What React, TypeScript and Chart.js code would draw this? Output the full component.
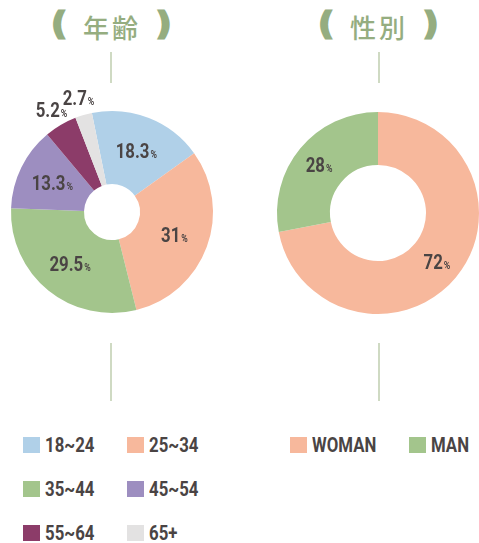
import React, { useEffect, useRef } from "react";
import { Chart, registerables } from "chart.js";

Chart.register(...registerables);

// ---- data ----
const ageTitle = "年齢";
const ageLabels = ["18~24", "25~34", "35~44", "45~54", "55~64", "65+"];
const ageValues = [18.3, 31, 29.5, 13.3, 5.2, 2.7];
const ageColors = ["#b0d0e8", "#f7b89c", "#a3c58c", "#9d8ec0", "#8c3c69", "#e3e2e2"];

const genderTitle = "性別";
const genderLabels = ["WOMAN", "MAN"];
const genderValues = [72, 28];
const genderColors = ["#f7b89c", "#a3c58c"];

// ---- styles ----
const FONT = "Roboto, 'DejaVu Sans', sans-serif";
const SX = 0.8;
const TEXT = "#4a4444";
const GREEN = "#95ad80";
const LINE = "#cfdac3";

const pctLabelPlugin = {
  id: "pctLabels",
  afterDatasetsDraw(chart: any) {
    const ctx = chart.ctx;
    const meta = chart.getDatasetMeta(0);
    const data = chart.data.datasets[0].data as number[];
    meta.data.forEach((arc: any, i: number) => {
      const p = arc.getProps(["x", "y", "startAngle", "endAngle", "innerRadius", "outerRadius"], true);
      const v = data[i];
      const mid = (p.startAngle + p.endAngle) / 2;
      const r = v < 6 ? p.outerRadius + 18 : (p.innerRadius + p.outerRadius) / 2 + 2;
      const cx = p.x + Math.cos(mid) * r;
      const cy = p.y + Math.sin(mid) * r;
      const num = String(v);
      ctx.save();
      ctx.fillStyle = TEXT;
      ctx.textAlign = "left";
      ctx.textBaseline = "alphabetic";
      ctx.font = `bold 21px ${FONT}`;
      const wn = ctx.measureText(num).width * SX;
      ctx.font = `bold 11px ${FONT}`;
      const wp = ctx.measureText("%").width * SX;
      const start = cx - (wn + wp + 1) / 2;
      const base = cy + 7.5;
      ctx.save();
      ctx.translate(start, base);
      ctx.scale(SX, 1);
      ctx.font = `bold 21px ${FONT}`;
      ctx.fillText(num, 0, 0);
      ctx.restore();
      ctx.save();
      ctx.translate(start + wn + 1, base);
      ctx.scale(SX, 1);
      ctx.font = `bold 11px ${FONT}`;
      ctx.fillText("%", 0, 0);
      ctx.restore();
      ctx.restore();
    });
  },
};

function Donut(props: {
  left: number; top: number; width: number; height: number;
  pad: { left: number; right: number; top: number; bottom: number };
  labels: string[]; values: number[]; colors: string[];
  cutout: number; radius: number; rotation: number;
}) {
  const ref = useRef<HTMLCanvasElement>(null);
  useEffect(() => {
    if (!ref.current) return;
    const chart = new Chart(ref.current, {
      type: "doughnut",
      data: {
        labels: props.labels,
        datasets: [{
          data: props.values,
          backgroundColor: props.colors,
          borderWidth: 0,
          hoverOffset: 0,
        }],
      },
      options: {
        responsive: false,
        animation: false,
        devicePixelRatio: 1,
        cutout: props.cutout,
        radius: props.radius,
        rotation: props.rotation,
        layout: { padding: props.pad },
        plugins: { legend: { display: false }, tooltip: { enabled: false } },
      },
      plugins: [pctLabelPlugin],
    } as any);
    return () => chart.destroy();
  }, []);
  return (
    <canvas
      ref={ref}
      width={props.width}
      height={props.height}
      style={{ position: "absolute", left: props.left, top: props.top, width: props.width, height: props.height }}
    />
  );
}

function Title(props: { text: string; openX: number; textX: number; closeX: number }) {
  const paren: React.CSSProperties = {
    position: "absolute", top: 4, fontFamily: "'DejaVu Sans', sans-serif", fontWeight: 700,
    fontSize: 30, lineHeight: "40px", color: GREEN, WebkitTextStroke: `3px ${GREEN}`,
  };
  return (
    <>
      <span style={{ ...paren, left: props.openX }}>(</span>
      <span style={{
        position: "absolute", left: props.textX, top: 7, fontFamily: "'Noto Sans CJK JP', sans-serif",
        fontWeight: 500, fontSize: 26, lineHeight: "40px", letterSpacing: 3, color: GREEN, whiteSpace: "nowrap",
      }}>{props.text}</span>
      <span style={{ ...paren, left: props.closeX }}>)</span>
    </>
  );
}

function VLine(props: { x: number; y1: number; y2: number }) {
  return <div style={{ position: "absolute", left: props.x - 1, top: props.y1, width: 2, height: props.y2 - props.y1, background: LINE }} />;
}

function LegendItem(props: { x: number; y: number; color: string; label: string }) {
  return (
    <>
      <div style={{ position: "absolute", left: props.x, top: props.y, width: 17, height: 16, background: props.color }} />
      <span style={{
        position: "absolute", left: props.x + 22, top: props.y - 4, fontFamily: FONT, fontWeight: 700,
        fontSize: 21, lineHeight: "24px", color: TEXT, whiteSpace: "nowrap",
        transform: `scaleX(${SX})`, transformOrigin: "left center", display: "inline-block",
      }}>{props.label}</span>
    </>
  );
}

export default function App() {
  const ageCols = [23, 127];
  const rows = [437, 481, 525];
  return (
    <div style={{ position: "absolute", left: 0, top: 0, width: 479, height: 543, background: "#fff", overflow: "hidden" }}>
      <Title text={ageTitle} openX={52} textX={83} closeX={157} />
      <Title text={genderTitle} openX={319} textX={350} closeX={424} />
      <VLine x={111} y1={52} y2={83} />
      <VLine x={379} y1={52} y2={83} />
      <Donut left={0} top={80} width={240} height={260}
        pad={{ left: 11, right: 27, top: 31, bottom: 27 }}
        labels={ageLabels} values={ageValues} colors={ageColors}
        cutout={28} radius={101} rotation={-11.5} />
      <Donut left={240} top={80} width={239} height={260}
        pad={{ left: 37, right: 0, top: 32, bottom: 26 }}
        labels={genderLabels} values={genderValues} colors={genderColors}
        cutout={48} radius={101} rotation={0} />
      <VLine x={111} y1={343} y2={401} />
      <VLine x={379} y1={343} y2={401} />
      {ageLabels.map((l, i) => (
        <LegendItem key={l} x={ageCols[i % 2]} y={rows[Math.floor(i / 2)]} color={ageColors[i]} label={l} />
      ))}
      {genderLabels.map((l, i) => (
        <LegendItem key={l} x={[290, 409][i]} y={rows[0]} color={genderColors[i]} label={l} />
      ))}
    </div>
  );
}
